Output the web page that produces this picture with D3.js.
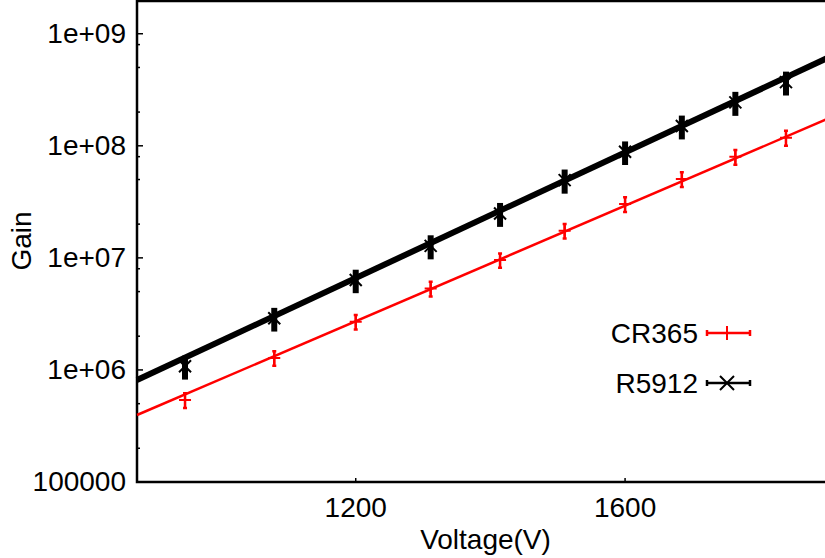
<!DOCTYPE html>
<html>
<head>
<meta charset="utf-8">
<script src="https://d3js.org/d3.v7.min.js"></script>
<style>
    body { margin: 0; background: #fff; }
    text { font-family: "Liberation Sans", Arial, sans-serif; fill: #000; }
</style>
</head>
<body>
<div id="svg-area"></div>
<script>
// data
var voltages = [1000, 1100, 1200, 1300, 1400, 1500, 1600, 1700, 1800, 1900];
var cr365Gain = [5.39e5, 1.28e6, 2.69e6, 5.32e6, 9.56e6, 1.75e7, 3.02e7, 5.05e7, 7.98e7, 1.18e8];
var cr365Err = [8.1e4, 1.9e5, 4.0e5, 8.0e5, 1.4e6, 2.6e6, 4.5e6, 7.6e6, 1.2e7, 1.8e7];
var r5912Gain = [1.08e6, 2.89e6, 6.34e6, 1.28e7, 2.49e7, 4.94e7, 8.84e7, 1.50e8, 2.44e8, 3.70e8];
var r5912Err = [2.6e5, 6.9e5, 1.5e6, 3.1e6, 6.0e6, 1.2e7, 2.1e7, 3.6e7, 5.9e7, 8.9e7];

// fitted lines, [voltage, gain] at both ends of the axis
var cr365Fit = [[950, 3.96e5], [2000, 1.84e8]];
var r5912Fit = [[950, 8.13e5], [2000, 6.47e8]];

var xTicks = [1200, 1600];
var yTicks = [1e5, 1e6, 1e7, 1e8, 1e9];
var yTickLabels = ["100000", "1e+06", "1e+07", "1e+08", "1e+09"];
var yMinorMult = [2, 5, 8];

// define dimensions of svg container
var svgWidth = 825;
var svgHeight = 558;

// plot box (right side runs off the picture)
var margin = { top: 0, left: 137 };
var chartWidth = 697;
var chartHeight = 482;

var svg = d3.select("#svg-area").append("svg")
    .attr("width", svgWidth)
    .attr("height", svgHeight);

var chartGroup = svg.append("g")
    .attr("transform", `translate(${margin.left}, ${margin.top})`);

// log scales on both axes
var xScale = d3.scaleLog()
    .domain([950, 2000])
    .range([0, chartWidth]);

var yScale = d3.scaleLog()
    .domain([1e5, 2e9])
    .range([chartHeight, 0]);

// minor y ticks
var minorTicks = [];
yTicks.forEach(function (t) {
    yMinorMult.forEach(function (m) {
        if (t * m < 2e9) minorTicks.push(t * m);
    });
});

chartGroup.selectAll(".ytick-minor")
    .data(minorTicks)
    .enter()
    .append("line")
    .attr("x1", 0).attr("x2", 3)
    .attr("y1", d => yScale(d)).attr("y2", d => yScale(d))
    .attr("stroke", "#000")
    .attr("stroke-width", 1.5);

chartGroup.selectAll(".ytick-major")
    .data(yTicks)
    .enter()
    .append("line")
    .attr("x1", 0).attr("x2", 6)
    .attr("y1", d => yScale(d)).attr("y2", d => yScale(d))
    .attr("stroke", "#000")
    .attr("stroke-width", 1.5);

chartGroup.selectAll(".ylabel")
    .data(yTicks)
    .enter()
    .append("text")
    .attr("x", -11)
    .attr("y", d => yScale(d))
    .attr("dy", "0.33em")
    .attr("text-anchor", "end")
    .attr("font-size", "28px")
    .text((d, i) => yTickLabels[i]);

// x ticks
chartGroup.selectAll(".xtick")
    .data(xTicks)
    .enter()
    .append("line")
    .attr("x1", d => xScale(d)).attr("x2", d => xScale(d))
    .attr("y1", chartHeight).attr("y2", chartHeight - 4)
    .attr("stroke", "#000")
    .attr("stroke-width", 1.5);

chartGroup.selectAll(".xlabel")
    .data(xTicks)
    .enter()
    .append("text")
    .attr("x", d => xScale(d))
    .attr("y", 517)
    .attr("text-anchor", "middle")
    .attr("font-size", "28px")
    .text(d => d);

// frame: left, bottom, top
chartGroup.append("path")
    .attr("d", `M${chartWidth},1 H0 V${chartHeight} H${chartWidth}`)
    .attr("fill", "none")
    .attr("stroke", "#000")
    .attr("stroke-width", 2.5);

// fit lines
var line = d3.line()
    .x(d => xScale(d[0]))
    .y(d => yScale(d[1]));

chartGroup.append("path")
    .attr("d", line(cr365Fit))
    .attr("fill", "none")
    .attr("stroke", "#ff0000")
    .attr("stroke-width", 2.5);

chartGroup.append("path")
    .attr("d", line(r5912Fit))
    .attr("fill", "none")
    .attr("stroke", "#000")
    .attr("stroke-width", 6);

// build point records
var cr365Data = voltages.map((v, i) => ({ v: v, g: cr365Gain[i], e: cr365Err[i] }));
var r5912Data = voltages.map((v, i) => ({ v: v, g: r5912Gain[i], e: r5912Err[i] }));

// R5912 error bars (thick) and X markers
var blackPts = chartGroup.selectAll(".r5912")
    .data(r5912Data)
    .enter()
    .append("g")
    .attr("transform", d => `translate(${xScale(d.v)}, 0)`);

blackPts.append("line")
    .attr("x1", 0).attr("x2", 0)
    .attr("y1", d => yScale(d.g + d.e))
    .attr("y2", d => yScale(d.g - d.e))
    .attr("stroke", "#000")
    .attr("stroke-width", 6);

blackPts.append("path")
    .attr("d", d => {
        var y = yScale(d.g);
        return `M-6,${y - 6}L6,${y + 6}M-6,${y + 6}L6,${y - 6}`;
    })
    .attr("stroke", "#000")
    .attr("stroke-width", 2);

// CR365 error bars and + markers
var redPts = chartGroup.selectAll(".cr365")
    .data(cr365Data)
    .enter()
    .append("g")
    .attr("transform", d => `translate(${xScale(d.v)}, 0)`);

redPts.append("path")
    .attr("d", d => {
        var y1 = yScale(d.g + d.e), y2 = yScale(d.g - d.e);
        return `M0,${y1}V${y2}M-2,${y1}H2M-2,${y2}H2`;
    })
    .attr("fill", "none")
    .attr("stroke", "#ff0000")
    .attr("stroke-width", 2.5);

redPts.append("path")
    .attr("d", d => {
        var y = yScale(d.g);
        return `M-6,${y}H6M0,${y - 6}V${y + 6}`;
    })
    .attr("stroke", "#ff0000")
    .attr("stroke-width", 2);

// y axis title
svg.append("text")
    .attr("transform", `translate(31, ${margin.top + chartHeight / 2}) rotate(-90)`)
    .attr("text-anchor", "middle")
    .attr("font-size", "28px")
    .text("Gain");

// x axis title
svg.append("text")
    .attr("x", margin.left + chartWidth / 2)
    .attr("y", 549)
    .attr("text-anchor", "middle")
    .attr("font-size", "28px")
    .text("Voltage(V)");

// legend
var legendItems = [
    { name: "CR365", color: "#ff0000", marker: "plus", y: 333 },
    { name: "R5912", color: "#000", marker: "cross", y: 383 }
];

var legend = svg.selectAll(".legend")
    .data(legendItems)
    .enter()
    .append("g")
    .attr("transform", d => `translate(0, ${d.y})`);

legend.append("text")
    .attr("x", 698)
    .attr("dy", "0.35em")
    .attr("text-anchor", "end")
    .attr("font-size", "28px")
    .text(d => d.name);

legend.append("path")
    .attr("d", "M707,0H750M707,-3V3M750,-3V3")
    .attr("fill", "none")
    .attr("stroke", d => d.color)
    .attr("stroke-width", 2.5);

legend.append("path")
    .attr("d", d => d.marker === "plus"
        ? "M721,0H733M727,-7V7"
        : "M720,-7L734,7M720,7L734,-7")
    .attr("fill", "none")
    .attr("stroke", d => d.color)
    .attr("stroke-width", 2);
</script>
</body>
</html>
